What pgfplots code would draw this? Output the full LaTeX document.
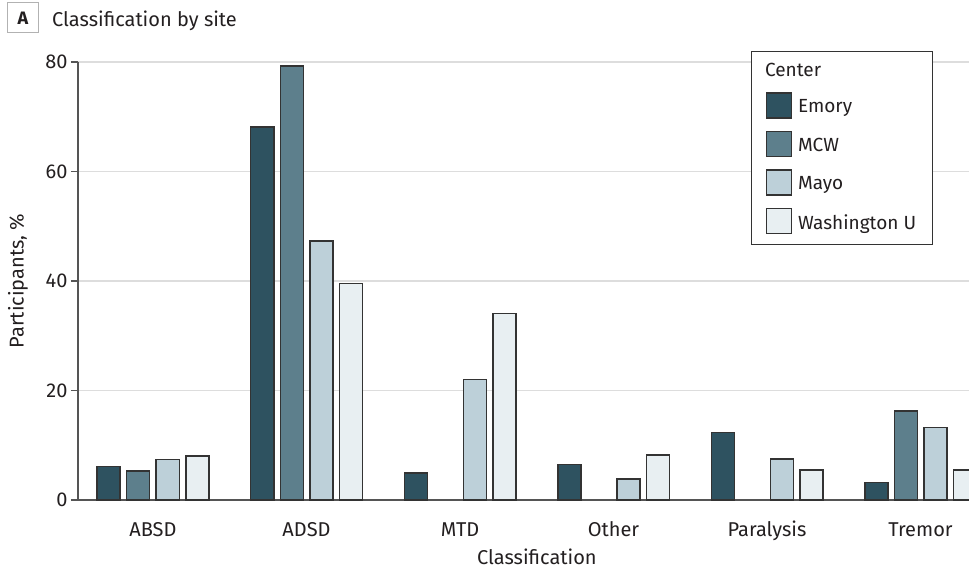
\documentclass[border=0pt]{standalone}
\usepackage{fontspec}
\setmainfont{Fira Sans}
\usepackage{pgfplots}
\pgfplotsset{compat=1.18}
\definecolor{cEmory}{HTML}{2E5260}
\definecolor{cMCW}{HTML}{5D7F8C}
\definecolor{cMayo}{HTML}{BDD0D9}
\definecolor{cWash}{HTML}{E8EFF2}
\definecolor{edge}{HTML}{333333}
\definecolor{txt}{HTML}{231F20}
\definecolor{gridc}{HTML}{DDDDDD}
\definecolor{axc}{HTML}{555555}

\pgfplotstableread{
x  emory mcw  mayo wash
0  6.1   5.3  7.4  8.0
1  68.1  79.3 47.3 39.5
2  4.9   nan  22.0 34.1
3  6.5   nan  3.8  8.2
4  12.3  nan  7.5  5.5
5  3.2   16.3 13.2 5.5
}\datatable

\begin{document}
\begin{tikzpicture}
\useasboundingbox (0pt,0pt) rectangle (969pt,571pt);
\node[draw=gray!60, line width=1pt, minimum width=31pt, minimum height=30pt, inner sep=0pt,
  font=\fontsize{18}{20}\selectfont\bfseries, text=txt] at (23pt,553pt) {A};
\node[anchor=base west, inner sep=0pt, font=\fontsize{20}{23}\selectfont, text=txt]
  at (52pt,544.5pt) {Classification by site};
\begin{axis}[
  at={(78pt,71pt)}, anchor=south west, scale only axis,
  width=891pt, height=438pt,
  xmin=-0.4886, xmax=5.316, ymin=0, ymax=80,
  axis lines=left,
  axis line style={-, draw=axc, line width=1.5pt},
  xtick={0,1,2,3,4,5},
  xticklabels={ABSD,ADSD,MTD,Other,Paralysis,Tremor},
  ytick={0,20,40,60,80},
  xtick style={draw=none},
  ytick style={draw=axc, line width=1.5pt},
  tick align=outside, major tick length=7pt,
  ymajorgrids, major grid style={gridc, line width=1.2pt},
  ticklabel style={font=\fontsize{20}{23}\selectfont, text=txt},
  /pgf/number format/assume math mode=true,
  xticklabel style={anchor=base, yshift=-29pt},
  ylabel={Participants, \%},
  xlabel={Classification},
  label style={font=\fontsize{20}{23}\selectfont, text=txt},
  ylabel style={at={(axis description cs:-0.0673,0.5)}, anchor=center},
  xlabel style={at={(axis description cs:0.515,-0.130)}, anchor=center},
  ybar, bar width=23pt,
  every axis plot/.append style={draw=edge, line width=1.5pt},
  legend image code/.code={\draw[#1, line width=1.5pt] (0pt,-11pt) rectangle (25pt,14pt);},
  legend style={at={(0.7553,1.0251)}, anchor=north west, draw=edge, line width=1.2pt,
    fill=white, font=\fontsize{19}{22}\selectfont, text=txt,
    row sep=12pt, column sep=4pt, inner xsep=14pt, inner ysep=10pt},
  legend cell align=left,
]
\addlegendimage{empty legend}
\addlegendentry{\hspace*{-33pt}Center}
\addplot[fill=cEmory, bar shift=-44.25pt] table[x=x, y=emory] {\datatable};
\addlegendentry{Emory}
\addplot[fill=cMCW, bar shift=-14.75pt] table[x=x, y=mcw] {\datatable};
\addlegendentry{MCW}
\addplot[fill=cMayo, bar shift=14.75pt] table[x=x, y=mayo] {\datatable};
\addlegendentry{Mayo}
\addplot[fill=cWash, bar shift=44.25pt] table[x=x, y=wash] {\datatable};
\addlegendentry{Washington U}
\end{axis}
\end{tikzpicture}
\end{document}
